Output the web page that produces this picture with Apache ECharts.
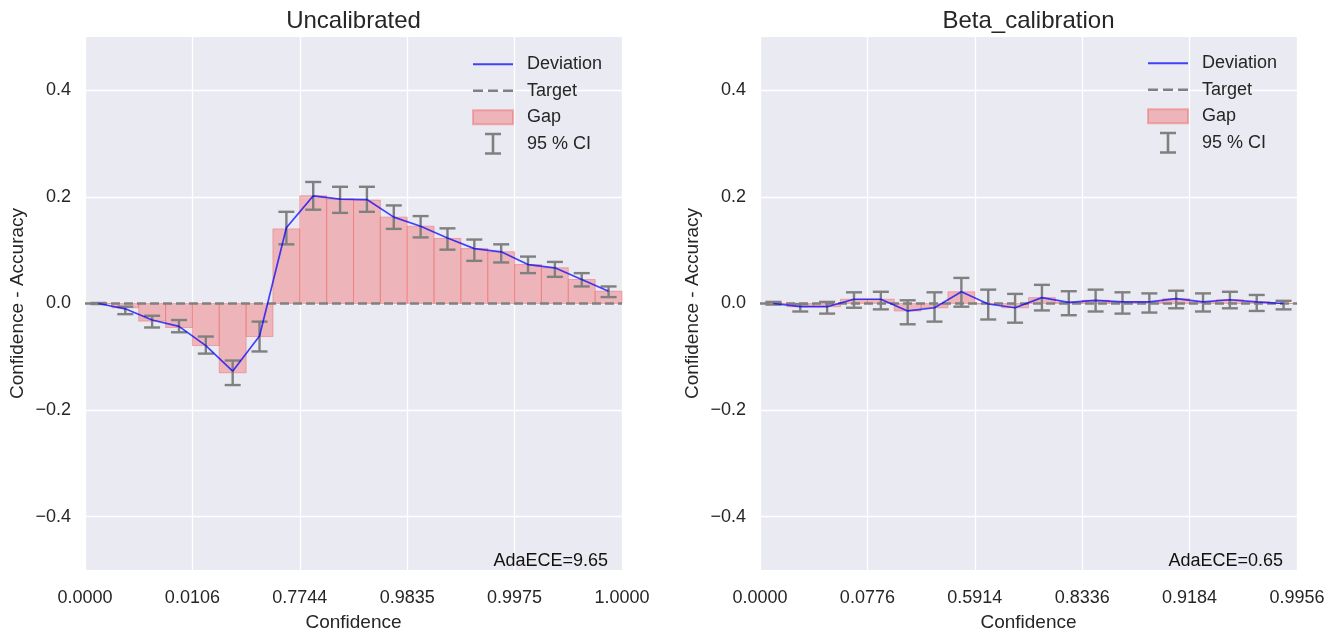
<!DOCTYPE html>
<html>
<head>
<meta charset="utf-8">
<script src="https://cdn.jsdelivr.net/npm/echarts@6/dist/echarts.min.js"></script>
<style>
html,body{margin:0;padding:0;background:#fff;}
#chart{width:1340px;height:637px;}
</style>
</head>
<body>
<div id="chart"></div>
<script>
// ---- data ----
const bins = [0,1,2,3,4,5,6,7,8,9,10,11,12,13,14,15,16,17,18,19];
const leftTickLabels = ['0.0000','0.0106','0.7744','0.9835','0.9975','1.0000'];
const rightTickLabels = ['0.0000','0.0776','0.5914','0.8336','0.9184','0.9956'];
const yTickValues = [-0.4,-0.2,0,0.2,0.4];

const leftDeviation = [0.000,-0.010,-0.031,-0.043,-0.079,-0.127,-0.061,0.142,0.202,0.196,0.195,0.162,0.145,0.123,0.103,0.097,0.073,0.067,0.045,0.023];
const leftGap       = [0.000,-0.008,-0.033,-0.045,-0.079,-0.130,-0.062,0.140,0.202,0.196,0.194,0.162,0.145,0.122,0.103,0.097,0.073,0.067,0.045,0.023];
const leftCILow     = [-0.001,-0.020,-0.045,-0.054,-0.094,-0.153,-0.090,0.111,0.176,0.170,0.172,0.140,0.124,0.101,0.080,0.077,0.057,0.050,0.032,0.012];
const leftCIHigh    = [0.001,-0.006,-0.023,-0.031,-0.062,-0.107,-0.034,0.172,0.228,0.219,0.219,0.184,0.164,0.141,0.120,0.111,0.088,0.078,0.057,0.032];

const rightDeviation = [0.000,-0.006,-0.006,0.008,0.008,-0.014,-0.008,0.022,-0.001,-0.008,0.011,0.002,0.006,0.003,0.003,0.009,0.003,0.007,0.003,0.000];
const rightGap       = [0.000,-0.006,-0.006,0.008,0.008,-0.014,-0.008,0.022,-0.001,-0.008,0.011,0.002,0.006,0.003,0.003,0.009,0.003,0.007,0.003,0.000];
const rightCILow     = [-0.002,-0.015,-0.019,-0.008,-0.011,-0.039,-0.034,-0.006,-0.030,-0.036,-0.013,-0.022,-0.015,-0.019,-0.017,-0.009,-0.015,-0.009,-0.014,-0.011];
const rightCIHigh    = [0.003,-0.001,0.003,0.021,0.022,0.006,0.021,0.048,0.026,0.018,0.035,0.023,0.026,0.021,0.019,0.024,0.019,0.022,0.016,0.005];

const titles = ['Uncalibrated','Beta_calibration'];
const eceTexts = ['AdaECE=9.65','AdaECE=0.65'];

// ---- styling ----
const FONT = 'Liberation Sans, Arial, sans-serif';
const TXT = '#262626';
const BG = '#EAEAF2';
const GRAY = '#808080';
const BLUE = 'rgba(0,0,255,0.72)';
const PINK = 'rgba(240,128,128,0.5)';
const PINK_EDGE = 'rgba(240,110,110,0.5)';

function renderGap(params, api) {
  const p0 = api.coord([api.value(0), 0]);
  const p1 = api.coord([api.value(1), api.value(2)]);
  return {
    type: 'rect',
    shape: { x: p0[0], y: Math.min(p0[1], p1[1]), width: p1[0] - p0[0], height: Math.abs(p1[1] - p0[1]) },
    style: { fill: PINK, stroke: PINK_EDGE, lineWidth: 1 }
  };
}
function renderErr(params, api) {
  const c = api.value(0);
  const lo = api.coord([c, api.value(1)]);
  const hi = api.coord([c, api.value(2)]);
  const hw = 8;
  const st = { stroke: GRAY, lineWidth: 2.4 };
  return {
    type: 'group',
    children: [
      { type: 'line', shape: { x1: lo[0], y1: lo[1], x2: hi[0], y2: hi[1] }, style: st },
      { type: 'line', shape: { x1: lo[0] - hw, y1: lo[1], x2: lo[0] + hw, y2: lo[1] }, style: st },
      { type: 'line', shape: { x1: hi[0] - hw, y1: hi[1], x2: hi[0] + hw, y2: hi[1] }, style: st }
    ]
  };
}

const gridLefts = [85, 760];
const tickSets = [leftTickLabels, rightTickLabels];
const devSets = [leftDeviation, rightDeviation];
const gapSets = [leftGap, rightGap];
const loSets = [leftCILow, rightCILow];
const hiSets = [leftCIHigh, rightCIHigh];

const grids = [], xAxes = [], yAxes = [], series = [], legends = [], graphics = [];
for (let k = 0; k < 2; k++) {
  grids.push({ left: gridLefts[k], top: 37, width: 537, height: 540, show: true, backgroundColor: BG, borderWidth: 0, containLabel: false });
  const labels = tickSets[k];
  xAxes.push({
    type: 'value', gridIndex: k, min: 0, max: 20, interval: 4,
    axisLine: { show: false }, axisTick: { show: false },
    splitLine: { show: true, lineStyle: { color: '#ffffff', width: 1.3 } },
    axisLabel: { fontSize: 18, color: TXT, fontFamily: FONT, margin: 19, formatter: v => labels[Math.round(v / 4)] },
    name: 'Confidence', nameLocation: 'middle', nameGap: 43,
    nameTextStyle: { fontSize: 19, color: TXT, fontFamily: FONT }
  });
  yAxes.push({
    type: 'value', gridIndex: k, min: -0.5, max: 0.5, interval: 0.1,
    axisLine: { show: false },
    axisTick: { show: false, customValues: yTickValues },
    splitLine: { show: true, lineStyle: { color: '#ffffff', width: 1.3 } },
    axisLabel: { fontSize: 18, color: TXT, fontFamily: FONT, margin: 14, customValues: yTickValues,
      formatter: v => (v < -1e-9 ? '\u2212' : '') + Math.abs(v).toFixed(1) },
    name: 'Confidence - Accuracy', nameLocation: 'middle', nameGap: 58, nameRotate: 90,
    nameTextStyle: { fontSize: 19, color: TXT, fontFamily: FONT }
  });
  const dev = devSets[k], gap = gapSets[k], lo = loSets[k], hi = hiSets[k];
  series.push({
    name: 'Gap', type: 'custom', xAxisIndex: k, yAxisIndex: k, z: 1,
    renderItem: renderGap, itemStyle: { color: PINK, borderColor: PINK_EDGE, borderWidth: 1 },
    encode: { x: [0, 1], y: 2 },
    data: bins.map(i => [i, i + 1, gap[i]]), silent: true
  });
  series.push({
    name: 'Target', type: 'line', xAxisIndex: k, yAxisIndex: k, z: 2,
    symbol: 'none', lineStyle: { color: GRAY, width: 2.4, type: [9, 4] }, itemStyle: { color: GRAY },
    data: [[0, 0], [20, 0]], silent: true, animation: false
  });
  series.push({
    name: '95 % CI', type: 'custom', xAxisIndex: k, yAxisIndex: k, z: 3,
    renderItem: renderErr, itemStyle: { color: GRAY },
    encode: { x: 0, y: [1, 2] },
    data: bins.map(i => [i + 0.5, lo[i], hi[i]]), silent: true
  });
  series.push({
    name: 'Deviation', type: 'line', xAxisIndex: k, yAxisIndex: k, z: 4,
    symbol: 'none', lineStyle: { color: BLUE, width: 1.7 }, itemStyle: { color: BLUE },
    data: bins.map(i => [i + 0.5, dev[i]]), silent: true, animation: false
  });
  legends.push({
    orient: 'vertical', left: k === 0 ? 472 : 1147, top: k === 0 ? 51 : 50,
    padding: 0, itemWidth: 40, itemHeight: 22, itemGap: 0, selectedMode: false,
    textStyle: { fontSize: 18, color: TXT, fontFamily: FONT, lineHeight: 26.5, padding: [0, 0, 0, 9] },
    data: [
      { name: 'Deviation', icon: 'path://M0,0h40v1.8h-40z' },
      { name: 'Target', icon: 'path://M0,0h10v2.4h-10z M15,0h10v2.4h-10z M30,0h10v2.4h-10z' },
      { name: 'Gap', icon: 'path://M0,0h40v14h-40z' },
      { name: '95 % CI', icon: 'path://M0,0h16v2.6h-16z M6.7,2.6h2.6v16.8h-2.6z M0,19.4h16v2.6h-16z' }
    ]
  });
  graphics.push({
    type: 'text', x: gridLefts[k] + 268.5, y: 21, z: 10,
    style: { text: titles[k], fontSize: 24, fontFamily: FONT, fill: TXT, align: 'center', verticalAlign: 'middle', textAlign: 'center', textVerticalAlign: 'middle' }
  });
  graphics.push({
    type: 'text', x: gridLefts[k] + 523, y: 561, z: 10,
    style: { text: eceTexts[k], fontSize: 18, fontFamily: FONT, fill: '#111', align: 'right', verticalAlign: 'middle', textAlign: 'right', textVerticalAlign: 'middle' }
  });
}

const chart = echarts.init(document.getElementById('chart'), null, { renderer: 'canvas' });
chart.setOption({
  backgroundColor: '#ffffff',
  animation: false,
  textStyle: { fontFamily: FONT },
  grid: grids, xAxis: xAxes, yAxis: yAxes, series: series, legend: legends, graphic: graphics
});
</script>
</body>
</html>
